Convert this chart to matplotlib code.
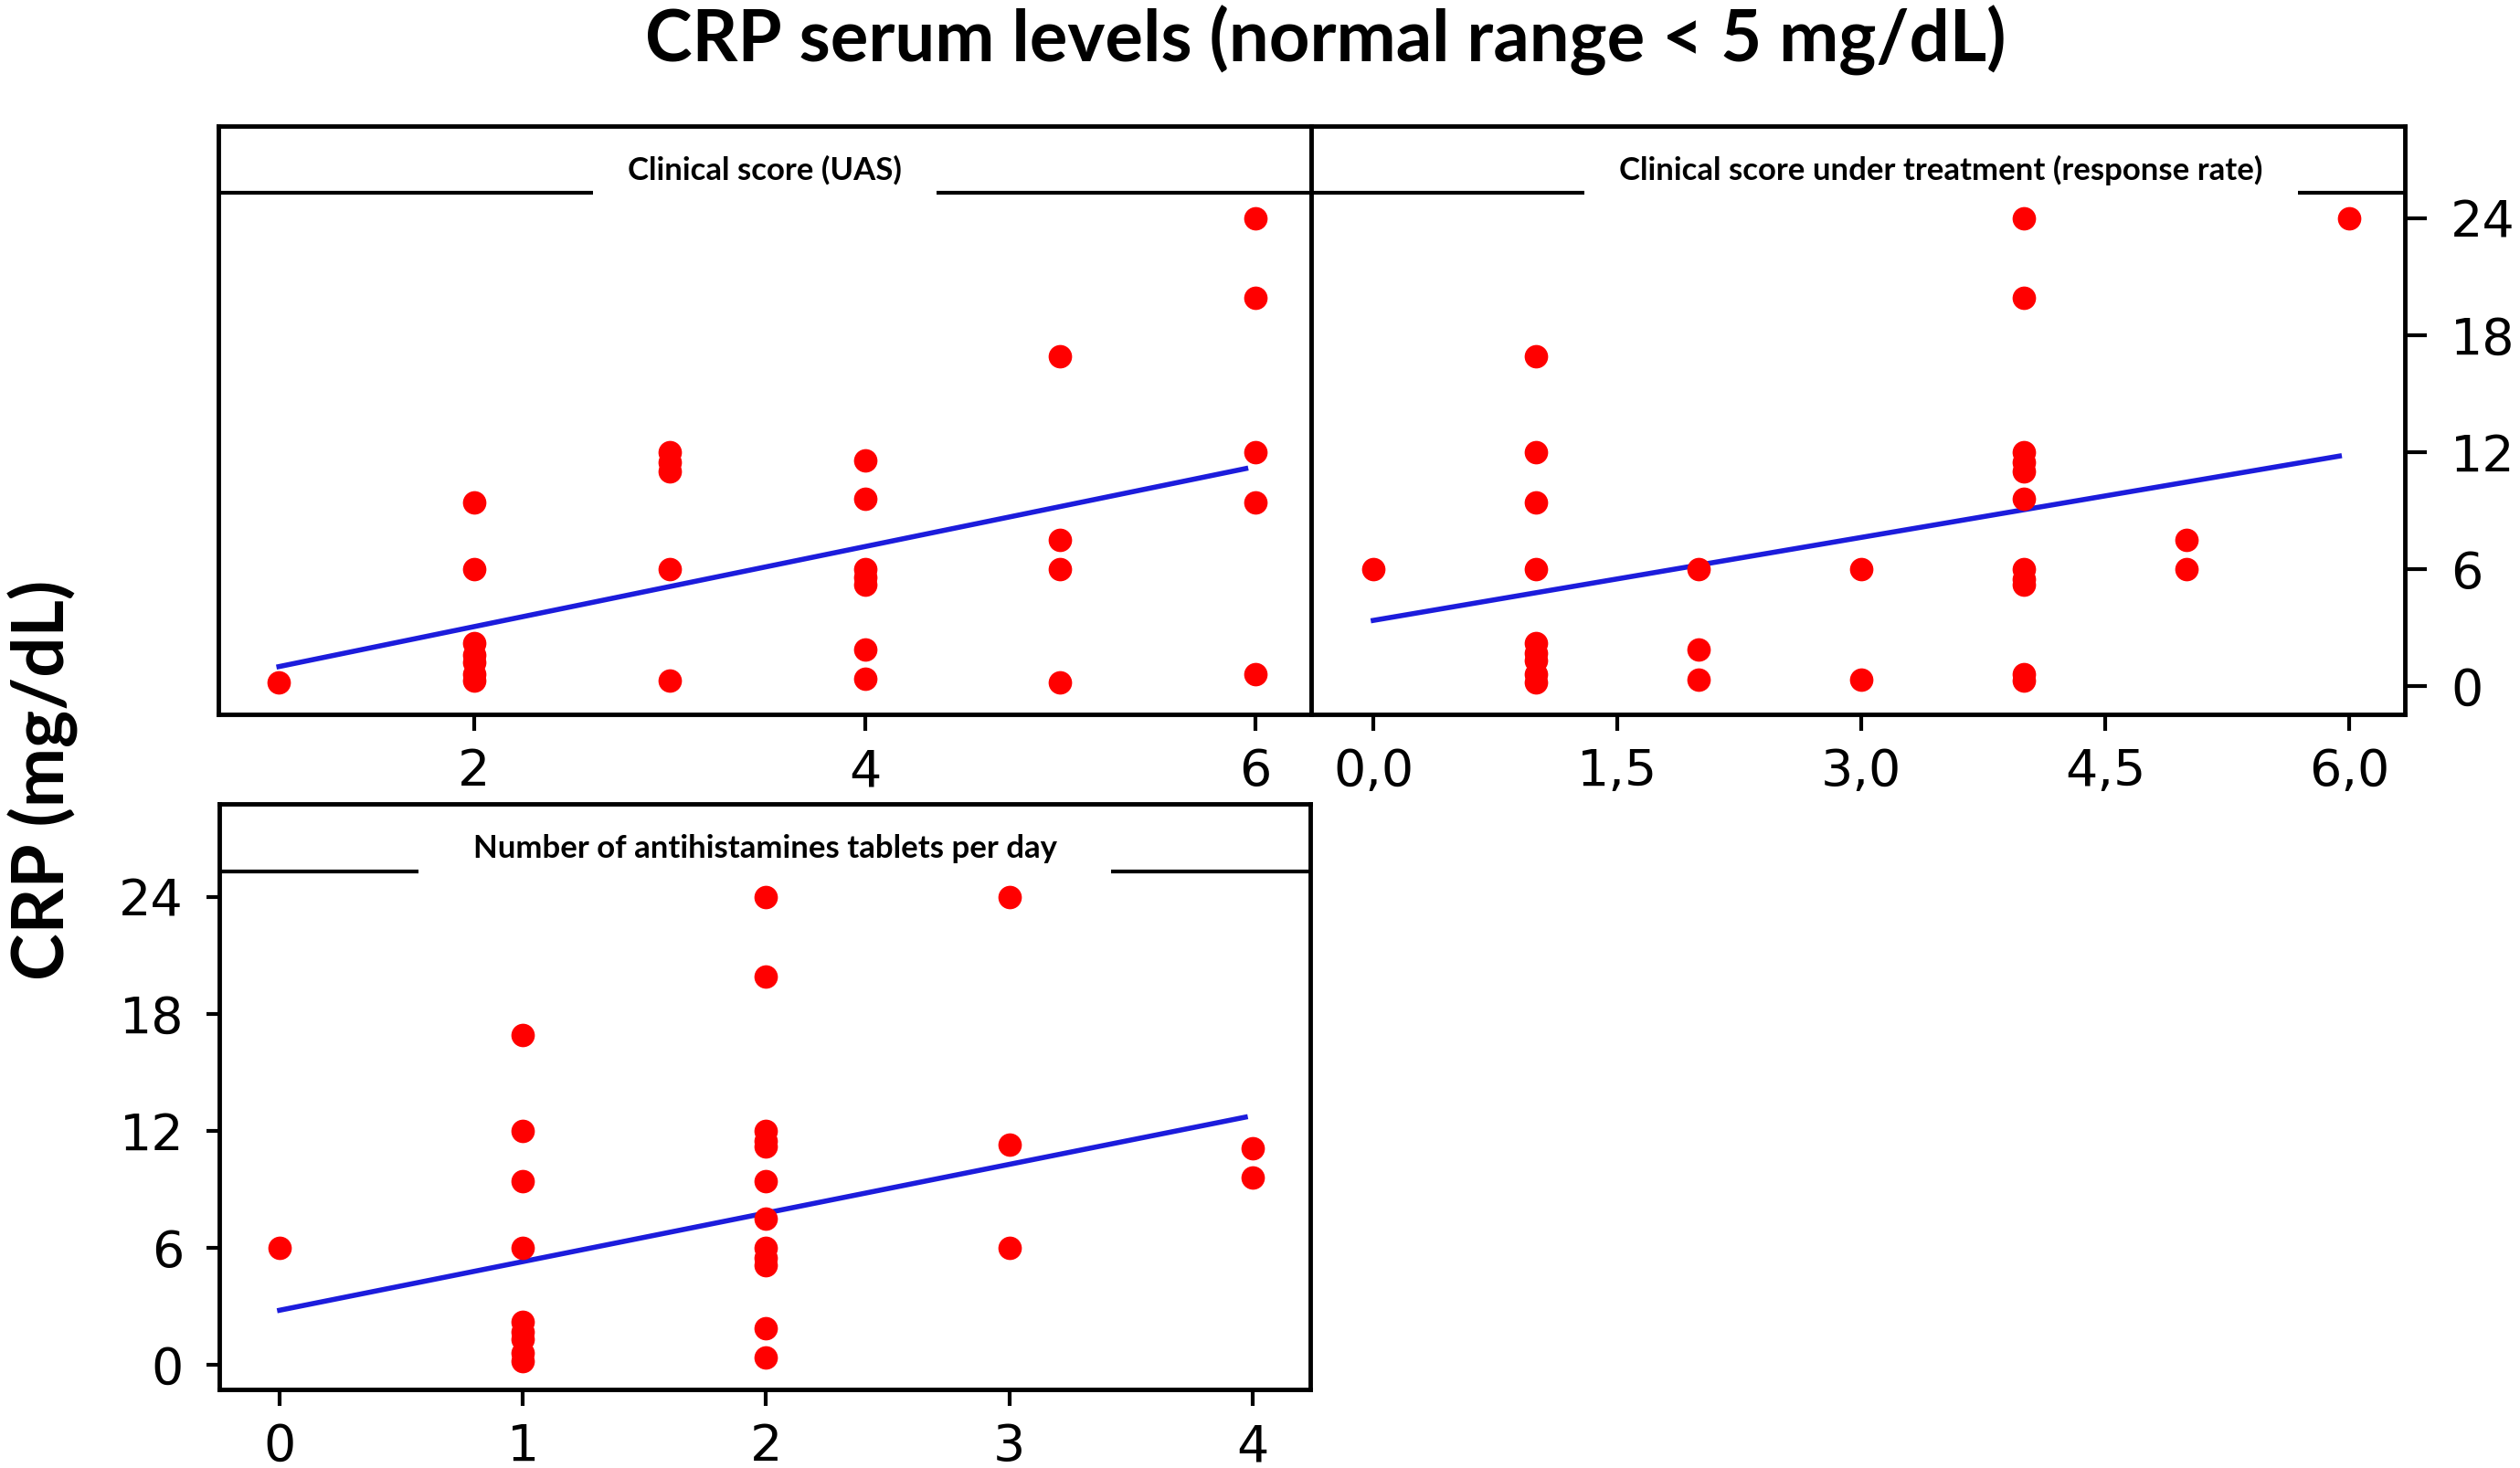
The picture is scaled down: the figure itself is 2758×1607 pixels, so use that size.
import numpy as np
import matplotlib
matplotlib.use("Agg")
import matplotlib.pyplot as plt
from matplotlib import font_manager

# data (CRP in mg/dL)
uas_x = [1, 2, 2, 2, 2, 2, 2, 2, 3, 3, 3, 3, 3, 4, 4, 4, 4, 4, 4, 4, 5, 5, 5, 5, 6, 6, 6, 6, 6]
uas_crp = [0.2, 9.4, 6.0, 2.2, 1.6, 1.2, 0.6, 0.3, 12.0, 11.5, 11.0, 6.0, 0.3,
           11.6, 9.6, 6.0, 5.6, 5.2, 1.9, 0.4, 16.9, 7.5, 6.0, 0.2, 24.0, 19.9, 12.0, 9.4, 0.6]

resp_x = [0, 1, 1, 1, 1, 1, 1, 1, 1, 1, 2, 2, 2, 3, 3, 4, 4, 4, 4, 4, 4, 4, 4, 4, 4, 4, 5, 5, 6]
resp_crp = [6.0, 16.9, 12.0, 9.4, 6.0, 2.2, 1.7, 1.3, 0.6, 0.2, 6.0, 1.9, 0.35, 6.0, 0.35,
            24.0, 19.9, 12.0, 11.5, 11.0, 9.6, 6.0, 5.5, 5.2, 0.6, 0.3, 7.5, 6.0, 24.0]

tab_x = [0, 1, 1, 1, 1, 1, 1, 1, 1, 1, 2, 2, 2, 2, 2, 2, 2, 2, 2, 2, 2, 2, 3, 3, 3, 4, 4]
tab_crp = [6.0, 16.9, 12.0, 9.4, 6.0, 2.2, 1.7, 1.3, 0.6, 0.2,
           24.0, 19.9, 12.0, 11.5, 11.2, 9.4, 7.5, 6.0, 5.5, 5.1, 1.9, 0.4,
           24.0, 11.3, 6.0, 11.1, 9.6]

# fitted lines (x range and y at both ends)
uas_fit_x = [1, 5.95]
uas_fit_y = [1.0, 11.16]
resp_fit_x = [0, 5.94]
resp_fit_y = [3.37, 11.8]
tab_fit_x = [0, 3.97]
tab_fit_y = [2.8, 12.7]

y_ticks = [0, 6, 12, 18, 24]
resp_ticks = [0, 1.5, 3, 4.5, 6]
resp_labels = ["0,0", "1,5", "3,0", "4,5", "6,0"]

titles = ["Clinical score (UAS)",
          "Clinical score under treatment (response rate)",
          "Number of antihistamines tablets per day"]

names = set(f.name for f in font_manager.fontManager.ttflist)
big_font = "Lato" if "Lato" in names else "DejaVu Sans"
strip_font = big_font

W, H = 2758, 1607
fig = plt.figure(figsize=(W / 100, H / 100), dpi=100)


def px_axes(left, top, right, bottom):
    return fig.add_axes([left / W, 1 - bottom / H, (right - left) / W, (bottom - top) / H])


def style(ax, title, text_x=0.5, pad=1.1):
    ax.set_ylim(-1.45, 28.73)
    for s in ax.spines.values():
        s.set_linewidth(3.5)
        s.set_zorder(2.5)
    # strip line under the panel title, broken by the white box of the title
    ax.axhline(25.31, color="black", lw=3.0, zorder=1.5)
    ax.text(text_x, 26.45, title, transform=ax.get_yaxis_transform(), ha="center", va="center",
            fontsize=25, fontweight="bold", family=strip_font, zorder=2, clip_on=True,
            bbox=dict(boxstyle="square,pad=%.2f" % pad, fc="white", ec="none"))
    ax.tick_params(axis="x", direction="out", length=13, width=3.0, pad=13, labelsize=40)
    ax.tick_params(axis="y", direction="out", width=3.0, labelsize=40)
    for lab in ax.get_xticklabels() + ax.get_yticklabels():
        lab.set_family("DejaVu Sans")


def points(ax, x, y, fx, fy):
    ax.plot(fx, fy, color="#1c1cdc", lw=4.0, zorder=2.7)
    ax.plot(x, y, "o", color="#ff0000", markersize=18.5, markeredgewidth=0, zorder=3)


# panel 1: clinical score (UAS)
ax1 = px_axes(239, 138, 1435, 782)
points(ax1, uas_x, uas_crp, uas_fit_x, uas_fit_y)
ax1.set_xlim(0.69, 6.285)
ax1.set_xticks([2, 4, 6])
ax1.set_yticks([])
style(ax1, titles[0])

# panel 2: response rate, y axis on the right
ax2 = px_axes(1435, 138, 2632, 782)
points(ax2, resp_x, resp_crp, resp_fit_x, resp_fit_y)
ax2.set_xlim(-0.382, 6.343)
ax2.set_xticks(resp_ticks)
ax2.set_xticklabels(resp_labels)
ax2.yaxis.tick_right()
ax2.set_yticks(y_ticks)
style(ax2, titles[1], text_x=0.576)
ax2.tick_params(axis="y", length=17, pad=19)

# panel 3: tablets per day
ax3 = px_axes(240, 880, 1434, 1521)
points(ax3, tab_x, tab_crp, tab_fit_x, tab_fit_y)
ax3.set_xlim(-0.248, 4.237)
ax3.set_xticks([0, 1, 2, 3, 4])
ax3.set_yticks(y_ticks)
style(ax3, titles[2], pad=1.7)
ax3.set_ylim(-1.26, 28.76)
ax3.tick_params(axis="y", length=10, pad=18)

fig.text(1451 / W, 1 - 44 / H, "CRP serum levels (normal range < 5 mg/dL)",
         ha="center", va="center", fontsize=56, fontweight="bold", family=big_font)
fig.text(47 / W, 1 - 854 / H, "CRP (mg/dL)", rotation=90, ha="center", va="center",
         fontsize=56, fontweight="bold", family=big_font)

fig.savefig("out.png", dpi=100)
